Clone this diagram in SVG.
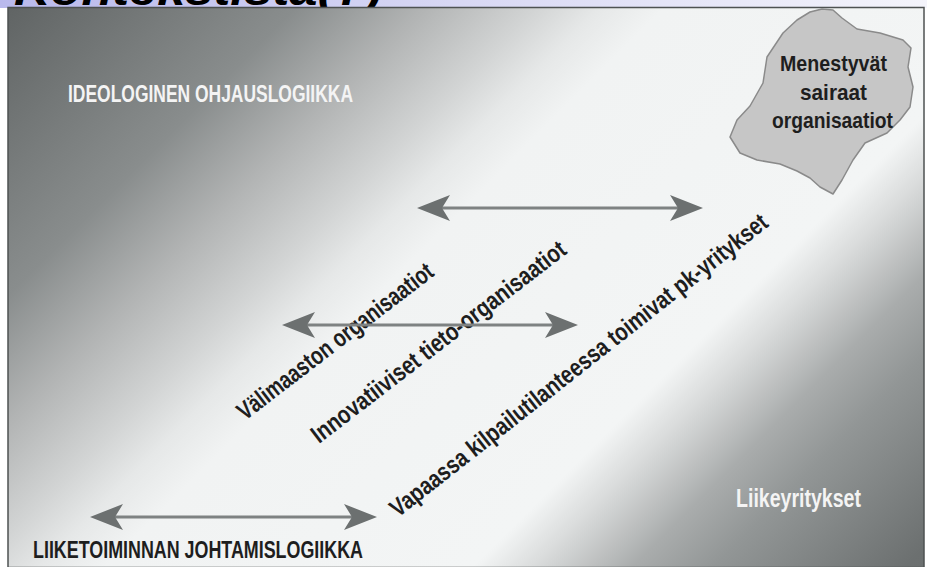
<svg xmlns="http://www.w3.org/2000/svg" width="927" height="567" viewBox="0 0 927 567">
<defs>
  <linearGradient id="topbar" x1="0" y1="0" x2="1" y2="0">
    <stop offset="0" stop-color="#b9b9ec"/>
    <stop offset="0.5" stop-color="#d8d8f4"/>
    <stop offset="1" stop-color="#f4f4fb"/>
  </linearGradient>
  <linearGradient id="bg" gradientUnits="userSpaceOnUse" x1="0" y1="0" x2="800" y2="800">
    <stop offset="0" stop-color="#5e6262"/>
    <stop offset="0.19" stop-color="#898d8d"/>
    <stop offset="0.27" stop-color="#b2b4b4"/>
    <stop offset="0.34" stop-color="#d2d4d4"/>
    <stop offset="0.38" stop-color="#e6e8e8"/>
    <stop offset="0.42" stop-color="#f1f3f3"/>
    <stop offset="0.65" stop-color="#f3f5f5"/>
    <stop offset="0.69" stop-color="#d8dada"/>
    <stop offset="0.75" stop-color="#a9acac"/>
    <stop offset="0.80" stop-color="#929696"/>
    <stop offset="0.92" stop-color="#6c7070"/>
    <stop offset="1" stop-color="#676b6b"/>
  </linearGradient>
  <marker id="head" markerUnits="userSpaceOnUse" viewBox="-24 -14 38 28" refX="0" refY="0" markerWidth="38" markerHeight="28" orient="auto-start-reverse" overflow="visible">
    <path d="M12,0 L-21,-13 L-13,0 L-21,13 Z" fill="#6c7070"/>
  </marker>
  <style>
    .shaft { stroke: #7e8282; stroke-width: 3; fill: none; }
    .cond { font-family: "Liberation Sans", Arial, sans-serif; font-weight: bold; }
    .white { fill: #f4f4f4; }
    .dark { fill: #1e1e1e; }
    .title { font-family: "Liberation Sans", Arial, sans-serif; font-weight: bold; font-style: italic; fill: #000; }
  </style>
</defs>

<!-- page background -->
<rect x="0" y="0" width="927" height="567" fill="#ffffff"/>
<rect x="0" y="0" width="927" height="8" fill="url(#topbar)"/>
<text class="title" x="14" y="5" font-size="44" textLength="368" lengthAdjust="spacingAndGlyphs">Kontekstista(?)</text>

<!-- panel -->
<rect x="8" y="7.5" width="916" height="560" fill="url(#bg)" stroke="#4e5252" stroke-width="1.5"/>

<!-- cloud node -->
<g id="cloud">
  <path d="M783,33 L797,20 L810,12 L822,9 L833,10 L842,18 L857,29 L880,33 L903,40 L911,48 L908,67 L913,87 L910,107 L900,120 L887,133 L865,143 L853,160 L842,180 L833,194 L820,187 L810,178 L797,171 L780,164 L757,160 L740,153 L730,137 L737,120 L750,106 L763,83 L767,57 Z" fill="#c6c6c6" stroke="#8a8a8a" stroke-width="1.5" stroke-linejoin="round"/>
  <text class="cond dark" x="833.5" y="71" font-size="22" text-anchor="middle" textLength="107" lengthAdjust="spacingAndGlyphs">Menestyvät</text>
  <text class="cond dark" x="833.5" y="100" font-size="22" text-anchor="middle" textLength="67" lengthAdjust="spacingAndGlyphs">sairaat</text>
  <text class="cond dark" x="832.5" y="128" font-size="22" text-anchor="middle" textLength="121" lengthAdjust="spacingAndGlyphs">organisaatiot</text>
</g>

<!-- corner labels -->
<g id="ideologinen">
  <text class="cond white" x="68" y="101.5" font-size="24" textLength="285" lengthAdjust="spacingAndGlyphs">IDEOLOGINEN OHJAUSLOGIIKKA</text>
</g>
<g id="liiketoiminnan">
  <text class="cond dark" x="33" y="558" font-size="24" textLength="330" lengthAdjust="spacingAndGlyphs">LIIKETOIMINNAN JOHTAMISLOGIIKKA</text>
</g>
<g id="liikeyritykset">
  <text class="cond white" x="736" y="507" font-size="25" textLength="125" lengthAdjust="spacingAndGlyphs">Liikeyritykset</text>
</g>

<!-- diagonal labels -->
<g id="valimaaston">
  <text class="cond dark" transform="translate(245,421) rotate(-37.5)" font-size="25" textLength="240" lengthAdjust="spacingAndGlyphs">Välimaaston organisaatiot</text>
</g>
<g id="innovatiiviset">
  <text class="cond dark" transform="translate(319,444) rotate(-37.5)" font-size="25" textLength="314" lengthAdjust="spacingAndGlyphs">Innovatiiviset tieto-organisaatiot</text>
</g>
<g id="vapaassa">
  <text class="cond dark" transform="translate(398,518) rotate(-38.2)" font-size="25" textLength="473" lengthAdjust="spacingAndGlyphs">Vapaassa kilpailutilanteessa toimivat pk-yritykset</text>
</g>

<!-- connectors -->
<g id="connectors">
  <line class="shaft" x1="429" y1="208" x2="691" y2="208" marker-start="url(#head)" marker-end="url(#head)"/>
  <line class="shaft" x1="294" y1="325" x2="566" y2="325" marker-start="url(#head)" marker-end="url(#head)"/>
  <line class="shaft" x1="102" y1="517" x2="365" y2="517" marker-start="url(#head)" marker-end="url(#head)"/>
</g>
</svg>
